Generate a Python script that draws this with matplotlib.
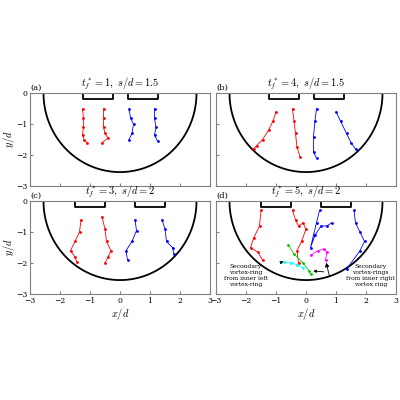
import numpy as np
import matplotlib
matplotlib.use('Agg')
import matplotlib.pyplot as plt

plt.rcParams['font.family'] = 'DejaVu Serif'
plt.rcParams['mathtext.fontset'] = 'cm'
plt.rcParams['font.size'] = 6

# панели: подпись, t_f, s/d
labels = ['(a)', '(b)', '(c)', '(d)']
tf_vals = [1, 4, 3, 5]
sd_vals = [1.5, 1.5, 2, 2]

# траектории (x, y) для каждой панели
tracks = [
    [('red', [-1.25, -1.22, -1.22, -1.25, -1.2, -1.1], [-0.5, -0.8, -1.1, -1.35, -1.5, -1.6]),
     ('red', [-0.55, -0.55, -0.55, -0.5, -0.4, -0.6], [-0.5, -0.8, -1.1, -1.3, -1.45, -1.6]),
     ('blue', [0.3, 0.35, 0.45, 0.4, 0.3], [-0.5, -0.8, -1.0, -1.3, -1.5]),
     ('blue', [1.15, 1.15, 1.2, 1.15, 1.25], [-0.5, -0.8, -1.1, -1.35, -1.55])],
    [('red', [-1.0, -1.1, -1.25, -1.45, -1.65, -1.75], [-0.6, -0.9, -1.2, -1.5, -1.7, -1.8]),
     ('red', [-0.45, -0.4, -0.35, -0.3, -0.2], [-0.5, -0.9, -1.3, -1.75, -2.05]),
     ('blue', [0.35, 0.3, 0.25, 0.25, 0.35], [-0.5, -0.9, -1.4, -1.9, -2.1]),
     ('blue', [1.0, 1.15, 1.35, 1.5, 1.65], [-0.6, -0.9, -1.3, -1.6, -1.8])],
    [('red', [-1.3, -1.35, -1.5, -1.65, -1.5, -1.45], [-0.6, -1.0, -1.3, -1.6, -1.8, -1.95]),
     ('red', [-0.6, -0.5, -0.45, -0.3, -0.4, -0.5], [-0.5, -0.9, -1.3, -1.6, -1.8, -2.0]),
     ('blue', [0.5, 0.55, 0.4, 0.2, 0.25], [-0.6, -0.95, -1.3, -1.6, -1.9]),
     ('blue', [1.4, 1.5, 1.55, 1.75, 1.8], [-0.6, -0.9, -1.3, -1.5, -1.7])],
    [('red', [-1.5, -1.55, -1.75, -1.85, -1.6, -1.45], [-0.3, -0.8, -1.2, -1.5, -1.65, -1.9]),
     ('red', [-0.45, -0.35, -0.25, -0.1, 0.0, -0.15, -0.3, -0.25], [-0.3, -0.6, -0.8, -0.7, -0.9, -1.3, -1.6, -2.0]),
     ('blue', [0.45, 0.35, 0.25, 0.15, 0.3, 0.5, 0.7, 0.85], [-0.3, -0.7, -1.1, -1.5, -1.1, -0.8, -0.8, -0.7]),
     ('blue', [1.6, 1.65, 1.8, 1.95, 1.8, 1.35], [-0.3, -0.7, -1.0, -1.3, -1.6, -2.2]),
     ('#00cc00', [-0.6, -0.4, -0.1, 0.1, 0.15], [-1.4, -1.7, -2.0, -2.25, -2.35]),
     ('cyan', [-0.75, -0.5, -0.3, -0.1], [-1.95, -2.0, -2.05, -2.15]),
     ('magenta', [0.15, 0.4, 0.6, 0.7, 0.65], [-1.75, -1.6, -1.55, -1.65, -1.9])],
]

fig = plt.figure(figsize=(4, 4), dpi=100)
lefts = [0.075, 0.54, 0.075, 0.54]
bottoms = [0.535, 0.535, 0.265, 0.265]
R = 2.55
th = np.linspace(np.pi, 2 * np.pi, 200)

for i in range(4):
    ax = fig.add_axes([lefts[i], bottoms[i], 0.45, 0.232])
    ax.plot(R * np.cos(th), R * np.sin(th), 'k', lw=1.3)
    s = sd_vals[i]
    for c in (-s / 2, s / 2):
        ax.plot([c - 0.5, c - 0.5, c + 0.5, c + 0.5], [0, -0.2, -0.2, 0], 'k', lw=1.3)
    for col, xs, ys in tracks[i]:
        ax.plot(xs, ys, '.-', color=col, lw=0.6, ms=2)
    ax.set_xlim(-3, 3)
    ax.set_ylim(-3, 0)
    ax.set_xticks([-3, -2, -1, 0, 1, 2, 3])
    ax.set_yticks([-3, -2, -1, 0])
    ax.tick_params(direction='in', labelsize=5.5, length=2, color='grey', pad=2)
    for sp in ax.spines.values():
        sp.set_color('grey')
    if i >= 2:
        ax.set_xlabel('$x/d$', fontsize=7.5, labelpad=1)
    else:
        ax.set_xticklabels([])
    if i % 2 == 0:
        ax.set_ylabel('$y/d$', fontsize=7.5)
        ax.yaxis.set_label_coords(-0.07, 0.5)
    else:
        ax.set_yticklabels([])
    ax.text(0.0, 1.01, labels[i], transform=ax.transAxes, fontsize=6, va='bottom')
    ax.text(0.5, 1.01, '$t_f^* = %d,\\ s/d = %s$' % (tf_vals[i], s),
            transform=ax.transAxes, fontsize=7.5, va='bottom', ha='center')
    if i == 3:
        ax.annotate('Secondary\nvortex-ring\nfrom inner left\nvortex-ring',
                    xy=(-0.75, -1.95), xytext=(-2.0, -2.4), fontsize=4.3, ha='center',
                    va='center', arrowprops=dict(arrowstyle='-|>', color='k', lw=0.6,
                                                 shrinkA=8))
        ax.annotate('Secondary\nvortex-rings\nfrom inner right\nvortex ring',
                    xy=(0.15, -2.25), xytext=(2.15, -2.4), fontsize=4.3, ha='center',
                    va='center', arrowprops=dict(arrowstyle='-|>', color='k', lw=0.6,
                                                 shrinkA=14))
        ax.annotate('', xy=(0.65, -1.9), xytext=(0.8, -2.5),
                    arrowprops=dict(arrowstyle='-|>', color='k', lw=0.6))

fig.savefig('out.png', dpi=100)
